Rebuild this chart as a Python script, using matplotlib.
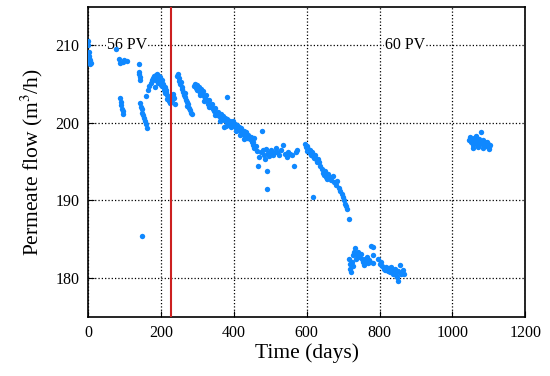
import matplotlib
matplotlib.use('Agg')
import matplotlib.pyplot as plt

plt.rcParams['font.family'] = ['Liberation Serif', 'DejaVu Serif']
plt.rcParams['mathtext.fontset'] = 'stix'

days = [
    # start
    0, 1, 2, 2, 3, 4, 4, 5, 6, 7,
    76, 84, 88, 95, 100, 106, 139, 140, 141, 142, 143,
    88, 90, 91, 93, 95, 96,
    143, 145, 147, 149, 151, 153, 156, 158, 161, 149,
    # peak before the red line
    160, 165, 168, 172, 175, 178, 181, 184, 186, 188, 190, 192, 194, 196, 198,
    200, 202, 204, 206, 208, 210, 212, 214, 216, 218, 220, 222, 224, 226, 228,
    230, 232, 234, 236, 238, 185, 193, 199, 215, 221,
    # first strand after the line
    245, 247, 249, 251, 253, 255, 257, 259, 261, 263, 265, 267, 269, 271, 273,
    275, 277, 280, 283, 286,
    # long decline
    292, 295, 297, 300, 302, 305, 307, 310, 312, 315, 318, 320, 323, 326, 328,
    331, 334, 337, 340, 343, 346, 349, 352, 355, 358, 361, 364, 367, 370, 373,
    376, 379, 382, 385, 388, 391, 394, 397, 400, 403, 406, 409, 412, 415, 418,
    421, 424, 427, 430, 433, 436, 440, 444, 448, 452, 456, 382, 372,
    298, 308, 318, 333, 348, 362, 378, 392, 405, 418, 428,
    # 440-575
    445, 450, 453, 456, 460, 463, 466, 470, 474, 478, 480, 483, 486, 489, 492,
    495, 498, 501, 504, 508, 512, 516, 520, 525, 530, 535, 540, 545, 550, 555,
    560, 565, 570, 574, 492,
    # 595-716
    595, 598, 600, 602, 605, 608, 610, 612, 615, 618, 620, 623, 626, 629, 632,
    635, 638, 641, 644, 647, 650, 653, 656, 660, 664, 668, 672, 676, 680, 684,
    688, 692, 696, 700, 703, 706, 709, 712, 716, 618,
    # 716-781
    716, 718, 720, 722, 724, 726, 728, 730, 733, 736, 739, 742, 745, 748, 751,
    754, 757, 760, 763, 766, 769, 772, 775, 778, 781, 781, 781,
    # 797-868
    797, 800, 805, 808, 812, 815, 818, 822, 825, 828, 831, 834, 837, 840, 843,
    846, 849, 852, 855, 858, 862, 865, 868, 850,
    # 60 PV period
    1045, 1048, 1050, 1053, 1056, 1058, 1061, 1064, 1066, 1069, 1072, 1075, 1078,
    1080, 1083, 1086, 1089, 1092, 1095, 1098, 1101, 1104, 1056, 1070, 1085, 1100,
]

flow = [
    210.6, 210.0, 209.2, 208.6, 208.2, 207.9, 208.4, 207.6, 208.1, 207.8,
    209.5, 208.2, 207.7, 207.9, 208.1, 208.0, 207.6, 206.6, 206.3, 205.9, 205.5,
    203.2, 202.7, 202.3, 201.8, 201.5, 201.2,
    202.6, 202.1, 201.8, 201.3, 201.0, 200.7, 200.3, 199.9, 199.3, 185.4,
    203.5, 204.2, 204.8, 205.2, 205.5, 205.8, 206.0, 205.6, 206.2, 205.9, 206.3, 205.7, 206.1, 205.4, 205.9,
    205.2, 205.5, 204.8, 205.0, 204.3, 204.6, 203.9, 204.2, 203.6, 203.1, 203.4, 202.8, 203.3, 202.6, 203.0,
    202.9, 203.5, 203.8, 203.2, 202.4, 204.6, 205.1, 204.9, 204.0, 202.9,
    206.0, 206.3, 205.8, 205.4, 205.0, 205.3, 204.7, 204.4, 204.0, 203.6, 203.9, 203.3, 203.0, 202.7, 202.2,
    202.5, 201.9, 201.7, 201.3, 201.1,
    204.8, 205.0, 204.5, 204.9, 204.2, 204.6, 203.9, 204.4, 203.7, 204.1, 203.5, 203.2, 203.6, 202.9, 202.5,
    203.0, 202.3, 202.0, 202.4, 201.8, 201.5, 201.9, 201.3, 201.0, 201.4, 200.8, 201.1, 200.6, 200.9, 200.4,
    200.7, 200.2, 200.5, 200.1, 199.7, 200.3, 199.9, 200.2, 199.6, 199.9, 199.4, 199.8, 199.2, 199.5, 198.9,
    199.3, 198.6, 199.0, 198.3, 198.8, 198.1, 198.5, 197.9, 198.2, 197.6, 198.0, 203.4, 199.5,
    204.2, 203.6, 202.8, 202.0, 201.0, 200.3, 199.6, 199.5, 198.9, 198.4, 197.9,
    198.0, 197.6, 197.2, 196.8, 197.0, 196.4, 194.5, 195.6, 196.2, 199.0, 196.5, 195.9, 195.3, 196.7, 193.8,
    196.1, 195.7, 196.5, 196.0, 195.8, 196.3, 196.8, 196.2, 195.9, 196.5, 197.1, 196.0, 195.6, 196.3, 196.0,
    195.8, 194.4, 196.2, 196.5, 191.5,
    197.3, 196.9, 196.4, 197.0, 196.6, 196.1, 196.5, 195.9, 196.2, 195.7, 195.5, 195.9, 195.3, 195.0, 195.4,
    194.9, 194.5, 194.1, 193.6, 193.3, 193.8, 193.0, 192.7, 193.4, 193.0, 192.6, 193.1, 192.4, 192.0, 192.5,
    191.6, 191.2, 190.8, 190.4, 190.0, 189.6, 189.3, 188.9, 187.6, 190.4,
    182.5, 181.8, 181.2, 180.7, 182.0, 181.5, 182.9, 183.3, 183.8, 182.4, 182.9, 183.3, 182.7, 183.1, 182.4,
    182.0, 181.7, 182.5, 182.2, 182.7, 181.9, 182.3, 182.0, 184.1, 184.0, 182.9, 181.9,
    182.4, 181.8, 182.1, 181.5, 181.2, 181.0, 181.4, 180.9, 181.3, 180.7, 181.4, 181.0, 180.5, 180.8, 181.1,
    180.4, 180.1, 180.9, 181.6, 180.5, 180.8, 181.0, 180.5, 179.6,
    197.8, 198.2, 197.5, 197.9, 196.8, 198.0, 197.4, 197.7, 198.3, 197.1, 197.9, 197.5, 198.8,
    197.3, 197.8, 197.2, 197.6, 197.0, 197.5, 197.3, 196.9, 197.1, 197.2, 196.9, 196.8, 196.6,
]

pv_change_day = 227
xticks = [0, 200, 400, 600, 800, 1000, 1200]
yticks = [180, 190, 200, 210]

fig = plt.figure(figsize=(5.5, 3.76), dpi=100)
ax = fig.add_axes([0.16, 0.158, 0.795, 0.824])

ax.scatter(days, flow, s=15, color='#0f88ff', linewidths=0, zorder=3)
ax.axvline(pv_change_day, color='#cc2020', lw=1.5, zorder=4)

ax.set_xlim(0, 1200)
ax.set_ylim(175, 215)
ax.set_xticks(xticks)
ax.set_yticks(yticks)
ax.grid(True, color='black', linestyle=':', linewidth=0.9)
ax.tick_params(direction='in', length=4, labelsize=11.5, pad=6)
for sp in ax.spines.values():
    sp.set_linewidth(1.2)

box = dict(facecolor='white', edgecolor='none', pad=0.5)
ax.text(52, 210, '56 PV', fontsize=11.5, ha='left', va='center', bbox=box, zorder=2.5)
ax.text(870, 210, '60 PV', fontsize=11.5, ha='center', va='center', bbox=box, zorder=2.5)

ax.set_xlabel('Time (days)', fontsize=15.5, labelpad=2)
ax.set_ylabel('Permeate flow (m$^3$/h)', fontsize=15.5, labelpad=8)

fig.savefig('out.png', dpi=100)
